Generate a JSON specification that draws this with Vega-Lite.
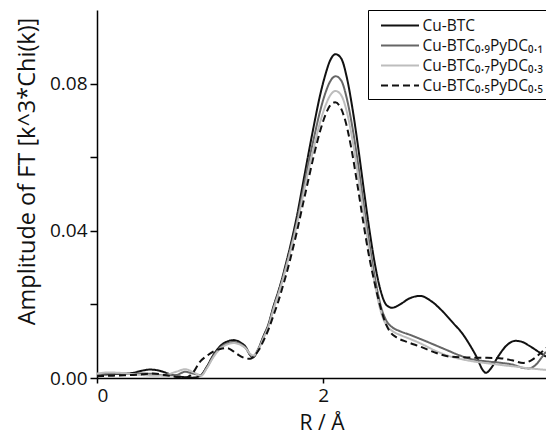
{
  "$schema": "https://vega.github.io/schema/vega-lite/v6.json",
  "width": 449,
  "height": 368,
  "autosize": {"type": "none"},
  "padding": {"left": 97, "top": 10, "right": 0, "bottom": 58},
  "background": "white",
  "config": {"view": {"stroke": null}, "font": "Open Sans"},
  "datasets": {
    "raw": [
      {"s":"Cu-BTC","r":0,"a":0.0008},{"s":"Cu-BTC","r":0.1,"a":0.0010},{"s":"Cu-BTC","r":0.2,"a":0.0011},{"s":"Cu-BTC","r":0.3,"a":0.0013},{"s":"Cu-BTC","r":0.4,"a":0.0020},{"s":"Cu-BTC","r":0.47,"a":0.0023},{"s":"Cu-BTC","r":0.55,"a":0.0020},{"s":"Cu-BTC","r":0.65,"a":0.0010},{"s":"Cu-BTC","r":0.75,"a":0.0003},{"s":"Cu-BTC","r":0.85,"a":0.0001},{"s":"Cu-BTC","r":0.92,"a":0.0008},{"s":"Cu-BTC","r":0.97,"a":0.0030},{"s":"Cu-BTC","r":1.03,"a":0.0063},{"s":"Cu-BTC","r":1.09,"a":0.0087},{"s":"Cu-BTC","r":1.15,"a":0.0099},{"s":"Cu-BTC","r":1.21,"a":0.0103},{"s":"Cu-BTC","r":1.27,"a":0.0096},{"s":"Cu-BTC","r":1.32,"a":0.0082},{"s":"Cu-BTC","r":1.35,"a":0.0064},{"s":"Cu-BTC","r":1.38,"a":0.0056},{"s":"Cu-BTC","r":1.42,"a":0.0075},{"s":"Cu-BTC","r":1.47,"a":0.0112},{"s":"Cu-BTC","r":1.52,"a":0.0150},{"s":"Cu-BTC","r":1.56,"a":0.0194},{"s":"Cu-BTC","r":1.6,"a":0.0232},{"s":"Cu-BTC","r":1.634,"a":0.0267},{"s":"Cu-BTC","r":1.67,"a":0.0310},{"s":"Cu-BTC","r":1.708,"a":0.0357},{"s":"Cu-BTC","r":1.767,"a":0.0439},{"s":"Cu-BTC","r":1.825,"a":0.0535},{"s":"Cu-BTC","r":1.87,"a":0.0610},{"s":"Cu-BTC","r":1.92,"a":0.0690},{"s":"Cu-BTC","r":1.97,"a":0.0765},{"s":"Cu-BTC","r":2.02,"a":0.0825},{"s":"Cu-BTC","r":2.06,"a":0.0862},{"s":"Cu-BTC","r":2.11,"a":0.0880},{"s":"Cu-BTC","r":2.16,"a":0.0868},{"s":"Cu-BTC","r":2.21,"a":0.0815},{"s":"Cu-BTC","r":2.26,"a":0.0730},{"s":"Cu-BTC","r":2.31,"a":0.0625},{"s":"Cu-BTC","r":2.36,"a":0.0510},{"s":"Cu-BTC","r":2.41,"a":0.0400},{"s":"Cu-BTC","r":2.46,"a":0.0305},{"s":"Cu-BTC","r":2.51,"a":0.0235},{"s":"Cu-BTC","r":2.56,"a":0.0198},{"s":"Cu-BTC","r":2.61,"a":0.0191},{"s":"Cu-BTC","r":2.68,"a":0.0200},{"s":"Cu-BTC","r":2.76,"a":0.0216},{"s":"Cu-BTC","r":2.86,"a":0.0223},{"s":"Cu-BTC","r":2.95,"a":0.0210},{"s":"Cu-BTC","r":3.05,"a":0.0183},{"s":"Cu-BTC","r":3.15,"a":0.0149},{"s":"Cu-BTC","r":3.22,"a":0.0125},{"s":"Cu-BTC","r":3.30,"a":0.0088},{"s":"Cu-BTC","r":3.36,"a":0.0055},{"s":"Cu-BTC","r":3.41,"a":0.0022},{"s":"Cu-BTC","r":3.44,"a":0.0014},{"s":"Cu-BTC","r":3.48,"a":0.0025},{"s":"Cu-BTC","r":3.55,"a":0.0060},{"s":"Cu-BTC","r":3.62,"a":0.0088},{"s":"Cu-BTC","r":3.70,"a":0.0101},{"s":"Cu-BTC","r":3.75,"a":0.0099},{"s":"Cu-BTC","r":3.82,"a":0.0088},{"s":"Cu-BTC","r":3.90,"a":0.0072},{"s":"Cu-BTC","r":3.97,"a":0.0058},

      {"s":"Cu-BTC₀.₉PyDC₀.₁","r":0,"a":0.0010},{"s":"Cu-BTC₀.₉PyDC₀.₁","r":0.1,"a":0.0012},{"s":"Cu-BTC₀.₉PyDC₀.₁","r":0.2,"a":0.0012},{"s":"Cu-BTC₀.₉PyDC₀.₁","r":0.3,"a":0.0011},{"s":"Cu-BTC₀.₉PyDC₀.₁","r":0.4,"a":0.0012},{"s":"Cu-BTC₀.₉PyDC₀.₁","r":0.5,"a":0.0011},{"s":"Cu-BTC₀.₉PyDC₀.₁","r":0.6,"a":0.0007},{"s":"Cu-BTC₀.₉PyDC₀.₁","r":0.7,"a":0.0008},{"s":"Cu-BTC₀.₉PyDC₀.₁","r":0.78,"a":0.0017},{"s":"Cu-BTC₀.₉PyDC₀.₁","r":0.85,"a":0.0012},{"s":"Cu-BTC₀.₉PyDC₀.₁","r":0.92,"a":0.0008},{"s":"Cu-BTC₀.₉PyDC₀.₁","r":0.97,"a":0.0028},{"s":"Cu-BTC₀.₉PyDC₀.₁","r":1.03,"a":0.0060},{"s":"Cu-BTC₀.₉PyDC₀.₁","r":1.09,"a":0.0083},{"s":"Cu-BTC₀.₉PyDC₀.₁","r":1.15,"a":0.0094},{"s":"Cu-BTC₀.₉PyDC₀.₁","r":1.21,"a":0.0098},{"s":"Cu-BTC₀.₉PyDC₀.₁","r":1.27,"a":0.0092},{"s":"Cu-BTC₀.₉PyDC₀.₁","r":1.32,"a":0.0079},{"s":"Cu-BTC₀.₉PyDC₀.₁","r":1.35,"a":0.0065},{"s":"Cu-BTC₀.₉PyDC₀.₁","r":1.38,"a":0.0058},{"s":"Cu-BTC₀.₉PyDC₀.₁","r":1.42,"a":0.0074},{"s":"Cu-BTC₀.₉PyDC₀.₁","r":1.47,"a":0.0110},{"s":"Cu-BTC₀.₉PyDC₀.₁","r":1.52,"a":0.0147},{"s":"Cu-BTC₀.₉PyDC₀.₁","r":1.56,"a":0.0190},{"s":"Cu-BTC₀.₉PyDC₀.₁","r":1.6,"a":0.0228},{"s":"Cu-BTC₀.₉PyDC₀.₁","r":1.634,"a":0.0262},{"s":"Cu-BTC₀.₉PyDC₀.₁","r":1.67,"a":0.0303},{"s":"Cu-BTC₀.₉PyDC₀.₁","r":1.708,"a":0.0348},{"s":"Cu-BTC₀.₉PyDC₀.₁","r":1.767,"a":0.0425},{"s":"Cu-BTC₀.₉PyDC₀.₁","r":1.825,"a":0.0515},{"s":"Cu-BTC₀.₉PyDC₀.₁","r":1.87,"a":0.0585},{"s":"Cu-BTC₀.₉PyDC₀.₁","r":1.92,"a":0.0655},{"s":"Cu-BTC₀.₉PyDC₀.₁","r":1.97,"a":0.0722},{"s":"Cu-BTC₀.₉PyDC₀.₁","r":2.02,"a":0.0775},{"s":"Cu-BTC₀.₉PyDC₀.₁","r":2.06,"a":0.0805},{"s":"Cu-BTC₀.₉PyDC₀.₁","r":2.11,"a":0.0820},{"s":"Cu-BTC₀.₉PyDC₀.₁","r":2.16,"a":0.0808},{"s":"Cu-BTC₀.₉PyDC₀.₁","r":2.21,"a":0.0758},{"s":"Cu-BTC₀.₉PyDC₀.₁","r":2.26,"a":0.0678},{"s":"Cu-BTC₀.₉PyDC₀.₁","r":2.31,"a":0.0578},{"s":"Cu-BTC₀.₉PyDC₀.₁","r":2.36,"a":0.0468},{"s":"Cu-BTC₀.₉PyDC₀.₁","r":2.41,"a":0.0362},{"s":"Cu-BTC₀.₉PyDC₀.₁","r":2.46,"a":0.0268},{"s":"Cu-BTC₀.₉PyDC₀.₁","r":2.51,"a":0.0195},{"s":"Cu-BTC₀.₉PyDC₀.₁","r":2.56,"a":0.0155},{"s":"Cu-BTC₀.₉PyDC₀.₁","r":2.61,"a":0.0138},{"s":"Cu-BTC₀.₉PyDC₀.₁","r":2.68,"a":0.0127},{"s":"Cu-BTC₀.₉PyDC₀.₁","r":2.77,"a":0.0117},{"s":"Cu-BTC₀.₉PyDC₀.₁","r":2.86,"a":0.0106},{"s":"Cu-BTC₀.₉PyDC₀.₁","r":3.0,"a":0.0088},{"s":"Cu-BTC₀.₉PyDC₀.₁","r":3.1,"a":0.0075},{"s":"Cu-BTC₀.₉PyDC₀.₁","r":3.21,"a":0.0061},{"s":"Cu-BTC₀.₉PyDC₀.₁","r":3.33,"a":0.0050},{"s":"Cu-BTC₀.₉PyDC₀.₁","r":3.45,"a":0.0045},{"s":"Cu-BTC₀.₉PyDC₀.₁","r":3.58,"a":0.0041},{"s":"Cu-BTC₀.₉PyDC₀.₁","r":3.68,"a":0.0036},{"s":"Cu-BTC₀.₉PyDC₀.₁","r":3.76,"a":0.0028},{"s":"Cu-BTC₀.₉PyDC₀.₁","r":3.82,"a":0.0026},{"s":"Cu-BTC₀.₉PyDC₀.₁","r":3.88,"a":0.0036},{"s":"Cu-BTC₀.₉PyDC₀.₁","r":3.93,"a":0.0055},{"s":"Cu-BTC₀.₉PyDC₀.₁","r":3.97,"a":0.0072},

      {"s":"Cu-BTC₀.₇PyDC₀.₃","r":0,"a":0.0012},{"s":"Cu-BTC₀.₇PyDC₀.₃","r":0.1,"a":0.0015},{"s":"Cu-BTC₀.₇PyDC₀.₃","r":0.2,"a":0.0014},{"s":"Cu-BTC₀.₇PyDC₀.₃","r":0.3,"a":0.0011},{"s":"Cu-BTC₀.₇PyDC₀.₃","r":0.4,"a":0.0008},{"s":"Cu-BTC₀.₇PyDC₀.₃","r":0.5,"a":0.0006},{"s":"Cu-BTC₀.₇PyDC₀.₃","r":0.6,"a":0.0008},{"s":"Cu-BTC₀.₇PyDC₀.₃","r":0.7,"a":0.0017},{"s":"Cu-BTC₀.₇PyDC₀.₃","r":0.78,"a":0.0024},{"s":"Cu-BTC₀.₇PyDC₀.₃","r":0.85,"a":0.0016},{"s":"Cu-BTC₀.₇PyDC₀.₃","r":0.92,"a":0.0006},{"s":"Cu-BTC₀.₇PyDC₀.₃","r":0.97,"a":0.0026},{"s":"Cu-BTC₀.₇PyDC₀.₃","r":1.03,"a":0.0057},{"s":"Cu-BTC₀.₇PyDC₀.₃","r":1.09,"a":0.0080},{"s":"Cu-BTC₀.₇PyDC₀.₃","r":1.15,"a":0.0091},{"s":"Cu-BTC₀.₇PyDC₀.₃","r":1.21,"a":0.0095},{"s":"Cu-BTC₀.₇PyDC₀.₃","r":1.27,"a":0.0090},{"s":"Cu-BTC₀.₇PyDC₀.₃","r":1.32,"a":0.0079},{"s":"Cu-BTC₀.₇PyDC₀.₃","r":1.35,"a":0.0067},{"s":"Cu-BTC₀.₇PyDC₀.₃","r":1.38,"a":0.0061},{"s":"Cu-BTC₀.₇PyDC₀.₃","r":1.42,"a":0.0074},{"s":"Cu-BTC₀.₇PyDC₀.₃","r":1.47,"a":0.0107},{"s":"Cu-BTC₀.₇PyDC₀.₃","r":1.52,"a":0.0144},{"s":"Cu-BTC₀.₇PyDC₀.₃","r":1.56,"a":0.0186},{"s":"Cu-BTC₀.₇PyDC₀.₃","r":1.6,"a":0.0224},{"s":"Cu-BTC₀.₇PyDC₀.₃","r":1.634,"a":0.0258},{"s":"Cu-BTC₀.₇PyDC₀.₃","r":1.67,"a":0.0298},{"s":"Cu-BTC₀.₇PyDC₀.₃","r":1.708,"a":0.0342},{"s":"Cu-BTC₀.₇PyDC₀.₃","r":1.767,"a":0.0416},{"s":"Cu-BTC₀.₇PyDC₀.₃","r":1.825,"a":0.0500},{"s":"Cu-BTC₀.₇PyDC₀.₃","r":1.87,"a":0.0565},{"s":"Cu-BTC₀.₇PyDC₀.₃","r":1.92,"a":0.0630},{"s":"Cu-BTC₀.₇PyDC₀.₃","r":1.97,"a":0.0692},{"s":"Cu-BTC₀.₇PyDC₀.₃","r":2.02,"a":0.0740},{"s":"Cu-BTC₀.₇PyDC₀.₃","r":2.06,"a":0.0767},{"s":"Cu-BTC₀.₇PyDC₀.₃","r":2.11,"a":0.0780},{"s":"Cu-BTC₀.₇PyDC₀.₃","r":2.16,"a":0.0768},{"s":"Cu-BTC₀.₇PyDC₀.₃","r":2.21,"a":0.0722},{"s":"Cu-BTC₀.₇PyDC₀.₃","r":2.26,"a":0.0645},{"s":"Cu-BTC₀.₇PyDC₀.₃","r":2.31,"a":0.0548},{"s":"Cu-BTC₀.₇PyDC₀.₃","r":2.36,"a":0.0443},{"s":"Cu-BTC₀.₇PyDC₀.₃","r":2.41,"a":0.0340},{"s":"Cu-BTC₀.₇PyDC₀.₃","r":2.46,"a":0.0250},{"s":"Cu-BTC₀.₇PyDC₀.₃","r":2.51,"a":0.0180},{"s":"Cu-BTC₀.₇PyDC₀.₃","r":2.56,"a":0.0143},{"s":"Cu-BTC₀.₇PyDC₀.₃","r":2.61,"a":0.0128},{"s":"Cu-BTC₀.₇PyDC₀.₃","r":2.68,"a":0.0117},{"s":"Cu-BTC₀.₇PyDC₀.₃","r":2.77,"a":0.0106},{"s":"Cu-BTC₀.₇PyDC₀.₃","r":2.86,"a":0.0094},{"s":"Cu-BTC₀.₇PyDC₀.₃","r":3.0,"a":0.0073},{"s":"Cu-BTC₀.₇PyDC₀.₃","r":3.1,"a":0.0061},{"s":"Cu-BTC₀.₇PyDC₀.₃","r":3.21,"a":0.0052},{"s":"Cu-BTC₀.₇PyDC₀.₃","r":3.33,"a":0.0045},{"s":"Cu-BTC₀.₇PyDC₀.₃","r":3.45,"a":0.0040},{"s":"Cu-BTC₀.₇PyDC₀.₃","r":3.58,"a":0.0035},{"s":"Cu-BTC₀.₇PyDC₀.₃","r":3.7,"a":0.0031},{"s":"Cu-BTC₀.₇PyDC₀.₃","r":3.8,"a":0.0027},{"s":"Cu-BTC₀.₇PyDC₀.₃","r":3.9,"a":0.0024},{"s":"Cu-BTC₀.₇PyDC₀.₃","r":3.97,"a":0.0022},

      {"s":"Cu-BTC₀.₅PyDC₀.₅","r":0,"a":0.0005},{"s":"Cu-BTC₀.₅PyDC₀.₅","r":0.1,"a":0.0006},{"s":"Cu-BTC₀.₅PyDC₀.₅","r":0.2,"a":0.0007},{"s":"Cu-BTC₀.₅PyDC₀.₅","r":0.3,"a":0.0008},{"s":"Cu-BTC₀.₅PyDC₀.₅","r":0.4,"a":0.0010},{"s":"Cu-BTC₀.₅PyDC₀.₅","r":0.5,"a":0.0012},{"s":"Cu-BTC₀.₅PyDC₀.₅","r":0.6,"a":0.0008},{"s":"Cu-BTC₀.₅PyDC₀.₅","r":0.7,"a":0.0003},{"s":"Cu-BTC₀.₅PyDC₀.₅","r":0.78,"a":0.0001},{"s":"Cu-BTC₀.₅PyDC₀.₅","r":0.85,"a":0.0015},{"s":"Cu-BTC₀.₅PyDC₀.₅","r":0.91,"a":0.0044},{"s":"Cu-BTC₀.₅PyDC₀.₅","r":0.97,"a":0.0060},{"s":"Cu-BTC₀.₅PyDC₀.₅","r":1.03,"a":0.0072},{"s":"Cu-BTC₀.₅PyDC₀.₅","r":1.09,"a":0.0079},{"s":"Cu-BTC₀.₅PyDC₀.₅","r":1.15,"a":0.0081},{"s":"Cu-BTC₀.₅PyDC₀.₅","r":1.2,"a":0.0074},{"s":"Cu-BTC₀.₅PyDC₀.₅","r":1.25,"a":0.0063},{"s":"Cu-BTC₀.₅PyDC₀.₅","r":1.30,"a":0.0055},{"s":"Cu-BTC₀.₅PyDC₀.₅","r":1.355,"a":0.0052},{"s":"Cu-BTC₀.₅PyDC₀.₅","r":1.39,"a":0.0060},{"s":"Cu-BTC₀.₅PyDC₀.₅","r":1.43,"a":0.0076},{"s":"Cu-BTC₀.₅PyDC₀.₅","r":1.47,"a":0.0100},{"s":"Cu-BTC₀.₅PyDC₀.₅","r":1.52,"a":0.0135},{"s":"Cu-BTC₀.₅PyDC₀.₅","r":1.56,"a":0.0170},{"s":"Cu-BTC₀.₅PyDC₀.₅","r":1.6,"a":0.0205},{"s":"Cu-BTC₀.₅PyDC₀.₅","r":1.634,"a":0.0240},{"s":"Cu-BTC₀.₅PyDC₀.₅","r":1.67,"a":0.0278},{"s":"Cu-BTC₀.₅PyDC₀.₅","r":1.708,"a":0.0322},{"s":"Cu-BTC₀.₅PyDC₀.₅","r":1.767,"a":0.0397},{"s":"Cu-BTC₀.₅PyDC₀.₅","r":1.825,"a":0.0478},{"s":"Cu-BTC₀.₅PyDC₀.₅","r":1.87,"a":0.0540},{"s":"Cu-BTC₀.₅PyDC₀.₅","r":1.92,"a":0.0608},{"s":"Cu-BTC₀.₅PyDC₀.₅","r":1.97,"a":0.0668},{"s":"Cu-BTC₀.₅PyDC₀.₅","r":2.02,"a":0.0715},{"s":"Cu-BTC₀.₅PyDC₀.₅","r":2.06,"a":0.0740},{"s":"Cu-BTC₀.₅PyDC₀.₅","r":2.105,"a":0.0749},{"s":"Cu-BTC₀.₅PyDC₀.₅","r":2.15,"a":0.0737},{"s":"Cu-BTC₀.₅PyDC₀.₅","r":2.2,"a":0.0694},{"s":"Cu-BTC₀.₅PyDC₀.₅","r":2.25,"a":0.0622},{"s":"Cu-BTC₀.₅PyDC₀.₅","r":2.30,"a":0.0530},{"s":"Cu-BTC₀.₅PyDC₀.₅","r":2.35,"a":0.0432},{"s":"Cu-BTC₀.₅PyDC₀.₅","r":2.40,"a":0.0340},{"s":"Cu-BTC₀.₅PyDC₀.₅","r":2.45,"a":0.0265},{"s":"Cu-BTC₀.₅PyDC₀.₅","r":2.50,"a":0.0200},{"s":"Cu-BTC₀.₅PyDC₀.₅","r":2.55,"a":0.0150},{"s":"Cu-BTC₀.₅PyDC₀.₅","r":2.60,"a":0.0122},{"s":"Cu-BTC₀.₅PyDC₀.₅","r":2.65,"a":0.0110},{"s":"Cu-BTC₀.₅PyDC₀.₅","r":2.75,"a":0.0097},{"s":"Cu-BTC₀.₅PyDC₀.₅","r":2.86,"a":0.0085},{"s":"Cu-BTC₀.₅PyDC₀.₅","r":3.0,"a":0.0068},{"s":"Cu-BTC₀.₅PyDC₀.₅","r":3.12,"a":0.0058},{"s":"Cu-BTC₀.₅PyDC₀.₅","r":3.25,"a":0.0056},{"s":"Cu-BTC₀.₅PyDC₀.₅","r":3.40,"a":0.0055},{"s":"Cu-BTC₀.₅PyDC₀.₅","r":3.56,"a":0.0054},{"s":"Cu-BTC₀.₅PyDC₀.₅","r":3.67,"a":0.0048},{"s":"Cu-BTC₀.₅PyDC₀.₅","r":3.77,"a":0.0041},{"s":"Cu-BTC₀.₅PyDC₀.₅","r":3.85,"a":0.0050},{"s":"Cu-BTC₀.₅PyDC₀.₅","r":3.92,"a":0.0067},{"s":"Cu-BTC₀.₅PyDC₀.₅","r":3.97,"a":0.0082}
    ]
  },
  "data": {"name": "raw"},
  "mark": {"type": "line", "strokeWidth": 2, "clip": true, "interpolate": "monotone"},
  "encoding": {
    "x": {
      "field": "r", "type": "quantitative",
      "scale": {"domain": [0, 3.97], "nice": false, "zero": false},
      "axis": {
        "values": [0, 2], "format": "d", "grid": false,
        "domainColor": "#000", "domainWidth": 1.5, "tickColor": "#000", "tickWidth": 1.5, "tickSize": 5,
        "labelFont": "Open Sans", "labelFontSize": 19, "labelColor": "#111", "labelPadding": 3,
        "title": "R / Å", "titleFont": "Open Sans", "titleFontSize": 21, "titleFontWeight": "normal", "titleColor": "#111",
        "titleBaseline": "alphabetic", "titleY": 51
      }
    },
    "y": {
      "field": "a", "type": "quantitative",
      "scale": {"domain": [0, 0.1], "nice": false},
      "axis": {
        "values": [0, 0.02, 0.04, 0.06, 0.08], "grid": false,
        "labelExpr": "round(datum.value*100) % 4 == 0 ? format(datum.value, '.2f') : ''",
        "domainColor": "#000", "domainWidth": 1.5, "tickColor": "#000", "tickWidth": 1.5, "tickSize": 7,
        "labelFont": "Open Sans", "labelFontSize": 19, "labelColor": "#111", "labelPadding": 3,
        "title": "Amplitude of FT [k^3*Chi(k)]", "titleFont": "Open Sans", "titleFontSize": 23.5, "titleFontWeight": "normal", "titleColor": "#111",
        "titleAngle": 270, "titleAlign": "center", "titleBaseline": "middle", "titleX": -70, "titleY": 161
      }
    },
    "color": {
      "field": "s", "type": "nominal",
      "scale": {"domain": ["Cu-BTC", "Cu-BTC₀.₉PyDC₀.₁", "Cu-BTC₀.₇PyDC₀.₃", "Cu-BTC₀.₅PyDC₀.₅"], "range": ["#111111", "#666666", "#bdbdbd", "#111111"]},
      "legend": {
        "title": null, "orient": "none", "legendX": 271, "legendY": 0,
        "strokeColor": "#000", "padding": 5, "fillColor": "white",
        "symbolType": "M-2,0H2", "symbolSize": 361, "symbolStrokeWidth": 2, "symbolOffset": 16.5,
        "labelFont": "Open Sans", "labelFontSize": 15.5, "labelColor": "#111", "labelOffset": 12,
        "rowPadding": 1
      }
    },
    "strokeDash": {
      "field": "s", "type": "nominal",
      "scale": {"domain": ["Cu-BTC", "Cu-BTC₀.₉PyDC₀.₁", "Cu-BTC₀.₇PyDC₀.₃", "Cu-BTC₀.₅PyDC₀.₅"], "range": [[1, 0], [1, 0], [1, 0], [7, 4]]},
      "legend": {
        "title": null, "orient": "none", "legendX": 271, "legendY": 0,
        "strokeColor": "#000", "padding": 5, "fillColor": "white",
        "symbolType": "M-2,0H2", "symbolSize": 361, "symbolStrokeWidth": 2, "symbolOffset": 16.5,
        "labelFont": "Open Sans", "labelFontSize": 15.5, "labelColor": "#111", "labelOffset": 12,
        "rowPadding": 1
      }
    }
  }
}
